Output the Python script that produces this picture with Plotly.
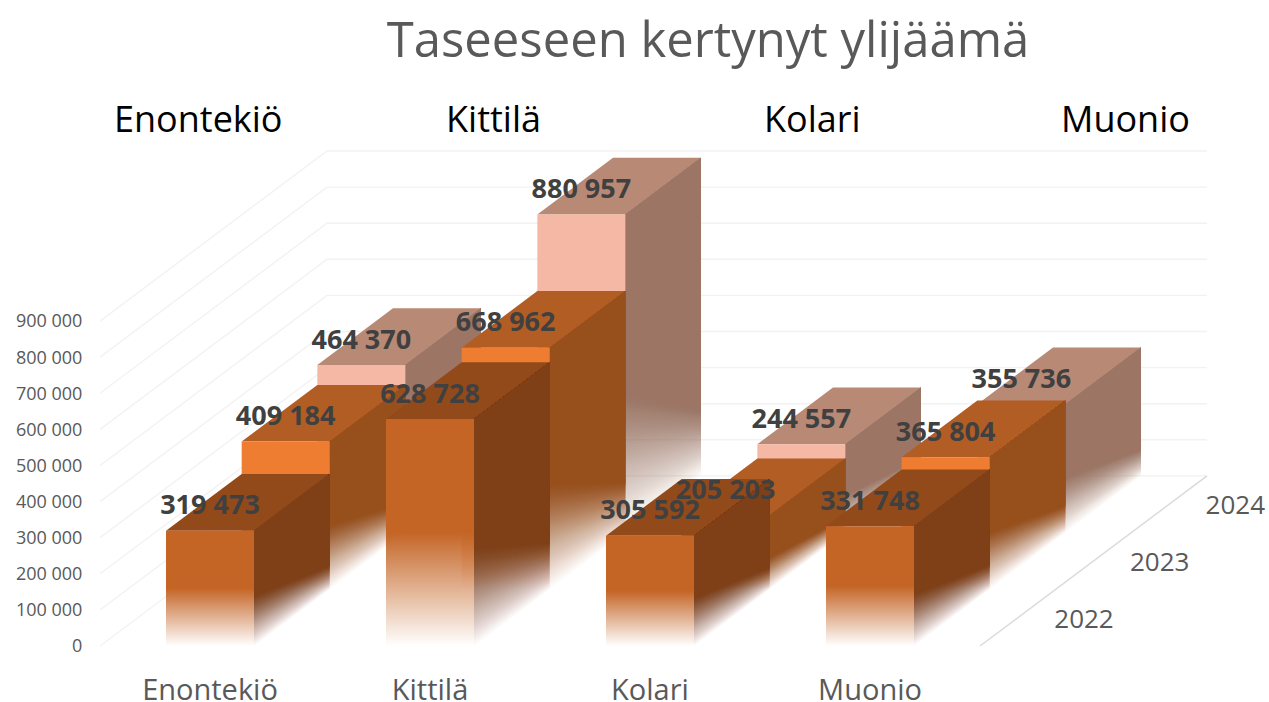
import plotly.graph_objects as go

categories = ["Enontekiö", "Kittilä", "Kolari", "Muonio"]
years = ["2022", "2023", "2024"]
values_2022 = [319473, 628728, 305592, 331748]
values_2023 = [409184, 668962, 205203, 365804]
values_2024 = [464370, 880957, 244557, 355736]
value_ticks = list(range(0, 1000000, 100000))
top_headers = ["Enontekiö", "Kittilä", "Kolari", "Muonio"]

series = [values_2022, values_2023, values_2024]
front_colors = ["#C46526", "#EF7D31", "#F5B8A4"]
top_colors = ["#924A1B", "#B15D24", "#B88975"]
side_colors = ["#7F3F17", "#97501C", "#9C7565"]

# plot geometry
W, H = 1269, 702
ML, MB = 100, 40
PX_CAT = 220.0
X0_PX = 210.0
Y0_PX = 646.0
PX_PER_UNIT = 36.1 / 100000.0
DEPTH_DX = 75.67 / PX_CAT
DEPTH_DY = 56.7 / PX_PER_UNIT
BAR_W = 0.4
N = 48


def xpx(p):
    return (p - X0_PX) / PX_CAT


def ypx(p):
    return (Y0_PX - p) / PX_PER_UNIT


def hex_rgba(c, a):
    return f"rgba({int(c[1:3],16)},{int(c[3:5],16)},{int(c[5:7],16)},{a:.4f})"


def poly(fig, xs, ys, color=None, gradient=None):
    kw = dict(fillgradient=gradient) if gradient else dict(fillcolor=color)
    fig.add_trace(go.Scatter(x=xs + xs[:1], y=ys + ys[:1], mode="lines", fill="toself",
                             line=dict(width=0), hoverinfo="skip", showlegend=False, **kw))


fig = go.Figure()

# walls
nd = len(years)
left_x, right_x = xpx(100), xpx(980)
for t in value_ticks:
    fig.add_trace(go.Scatter(x=[left_x, left_x + nd * DEPTH_DX, right_x + nd * DEPTH_DX],
                             y=[t, t + nd * DEPTH_DY, t + nd * DEPTH_DY], mode="lines",
                             line=dict(color="#F2F2F2", width=1.4), hoverinfo="skip",
                             showlegend=False))
fig.add_trace(go.Scatter(x=[right_x, right_x + nd * DEPTH_DX], y=[0, nd * DEPTH_DY], mode="lines",
                         line=dict(color="#D9D9D9", width=1.4), hoverinfo="skip", showlegend=False))

# bars, back to front
for s in range(nd - 1, -1, -1):
    base = s * DEPTH_DY
    for c, v in enumerate(series[s]):
        xl = c + s * DEPTH_DX - BAR_W / 2
        xr = xl + BAR_W
        top = base + v
        poly(fig, [xl, xr, xr + DEPTH_DX, xl + DEPTH_DX],
             [top, top, top + DEPTH_DY, top + DEPTH_DY], top_colors[s])
        for k in range(1, N + 1):
            a = 1.0 / (N - k + 1)
            t = (k - 1) / N
            poly(fig, [xr, xr + DEPTH_DX, xr + DEPTH_DX, xr],
                 [base + t * 0.44 * v, base + DEPTH_DY + t * 0.21 * v, top + DEPTH_DY, top],
                 hex_rgba(side_colors[s], a))
        poly(fig, [xl, xr, xr, xl], [base, base, top, top], gradient=dict(
            type="vertical", start=base, stop=top,
            colorscale=[[0, hex_rgba(front_colors[s], 0)], [0.5, hex_rgba(front_colors[s], 1)],
                        [1, hex_rgba(front_colors[s], 1)]]))

# data labels
lab_x, lab_y, lab_t = [], [], []
for s in range(nd):
    for c, v in enumerate(series[s]):
        lab_x.append(c + s * DEPTH_DX)
        lab_y.append(s * DEPTH_DY + v + 64000)
        lab_t.append(f"{v:,}".replace(",", " "))
fig.add_trace(go.Scatter(x=lab_x, y=lab_y, text=lab_t, mode="text", textposition="middle center",
                         textfont=dict(family="Open Sans", size=27, color="#404040", weight="bold"),
                         hoverinfo="skip", showlegend=False))

# depth axis labels
fig.add_trace(go.Scatter(x=[xpx(1084) + s * DEPTH_DX for s in range(nd)],
                         y=[ypx(621) + s * DEPTH_DY for s in range(nd)],
                         text=years, mode="text", textposition="middle center",
                         textfont=dict(family="Open Sans", size=26, color="#595959"),
                         hoverinfo="skip", showlegend=False))

# headers
header_px = [198, 493, 812, 1125]
annotations = [dict(x=xpx(px), y=ypx(118), xref="x", yref="y", text=t, showarrow=False,
                    xanchor="center", yanchor="middle",
                    font=dict(family="Open Sans", size=36, color="#000000"))
               for px, t in zip(header_px, top_headers)]

fig.update_layout(
    width=W, height=H, autosize=False,
    margin=dict(l=ML, r=0, t=0, b=MB, pad=0),
    paper_bgcolor="white", plot_bgcolor="white",
    separators=", ",
    showlegend=False,
    title=dict(text="Taseeseen kertynyt ylijäämä", xref="container", yref="container",
               x=708 / W, y=1 - 40 / H, xanchor="center", yanchor="middle",
               font=dict(family="Open Sans", size=49, color="#595959")),
    annotations=annotations,
    xaxis=dict(range=[xpx(ML), xpx(W)], tickmode="array", tickvals=list(range(len(categories))),
               ticktext=categories, showgrid=False, zeroline=False, showline=False,
               ticks="outside", ticklen=2, tickcolor="rgba(0,0,0,0)", automargin=False,
               tickfont=dict(family="Open Sans", size=29, color="#595959")),
    yaxis=dict(range=[ypx(H - MB), ypx(0)], tickmode="array", tickvals=value_ticks,
               tickformat=",d", showgrid=False, zeroline=False, showline=False,
               ticks="outside", ticklen=13, tickcolor="rgba(0,0,0,0)", automargin=False,
               tickfont=dict(family="Open Sans", size=18, color="#595959")),
)

fig.write_html("out.html", config={"displayModeBar": False},
               post_script="document.body.style.margin='0';document.documentElement.style.overflow='hidden';")
